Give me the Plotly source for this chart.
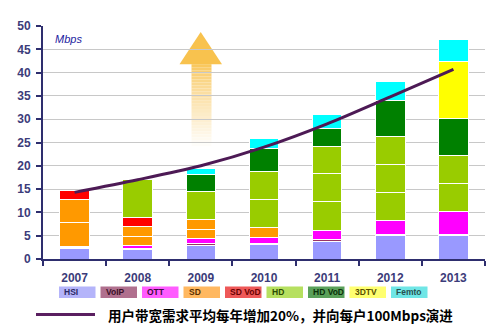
import plotly.graph_objects as go

years = ['2007', '2008', '2009', '2010', '2011', '2012', '2013']
hsi    = [2.2, 2.0, 3.0, 3.1, 3.8, 5.0, 5.0]
voip   = [0.2, 0.2, 0.3, 0.2, 0.3, 0.2, 0.2]
ott    = [0.3, 0.6, 1.0, 1.3, 2.1, 3.0, 5.0]
sd_a   = [5.1, 2.1, 2.1, 2.1, 0, 0, 0]
sd_b   = [5.0, 2.1, 2.0, 0, 0, 0, 0]
sd_vod = [1.8, 2.0, 0, 0, 0, 0, 0]
hd_a   = [0, 8.1, 6.0, 6.1, 6.1, 6.1, 6.0]
hd_b   = [0, 0, 0, 5.9, 6.1, 6.0, 6.0]
hd_c   = [0, 0, 0, 0, 5.8, 5.9, 0]
hd_vod = [0, 0, 3.8, 5.0, 3.8, 7.9, 8.0]
tdtv   = [0, 0, 0, 0, 0, 0, 12.1]
femto  = [0, 0, 1.3, 2.1, 3.1, 3.9, 4.9]
trend  = [14.3, 17.0, 20.0, 24.0, 29.0, 34.8, 40.7]

legend_names = ['HSI', 'VoIP', 'OTT', 'SD', 'SD VoD', 'HD', 'HD VoD', '3DTV', 'Femto']
trend_label = '用户带宽需求平均每年增加20%，并向每户100Mbps演进'

C = {
    'HSI': '#9999ff', 'VoIP': '#993366', 'OTT': '#ff00ff', 'SD': '#ff9900',
    'SD VoD': '#ff0000', 'HD': '#99cc00', 'HD VoD': '#008000',
    '3DTV': '#ffff00', 'Femto': '#00ffff',
}
LEG_FILL = {
    'HSI': '#b4b4fa', 'VoIP': '#b0708e', 'OTT': '#ff5cff', 'SD': '#ffb860',
    'SD VoD': '#ee5858', 'HD': '#b6e060', 'HD VoD': '#5aa05a',
    '3DTV': '#ffff70', 'Femto': '#70e6e6',
}
LEG_TEXT = {
    'HSI': '#2a2a66', 'VoIP': '#3a1028', 'OTT': '#3a0a3a', 'SD': '#5a3000',
    'SD VoD': '#6a0000', 'HD': '#2a4a00', 'HD VoD': '#0a300a',
    '3DTV': '#5a5000', 'Femto': '#2a5050',
}

series = [
    ('HSI', hsi), ('VoIP', voip), ('OTT', ott), ('SD', sd_a), ('SD', sd_b),
    ('SD VoD', sd_vod), ('HD', hd_a), ('HD', hd_b), ('HD', hd_c),
    ('HD VoD', hd_vod), ('3DTV', tdtv), ('Femto', femto),
]

fig = go.Figure()
for name, vals in series:
    fig.add_trace(go.Bar(
        x=years, y=vals, name=name, showlegend=False,
        marker=dict(color=C[name], line=dict(color='white', width=1)),
    ))

fig.add_trace(go.Scatter(
    x=years, y=trend, mode='lines', showlegend=False,
    line=dict(color='#4d1a55', width=3, shape='spline', smoothing=0.8),
))

# plot-area geometry helpers (pixels -> paper)
L, R, T, B = 43, 485, 26, 259
def px(x):
    return (x - L) / (R - L)
def py(y):
    return (B - y) / (B - T)

shapes = []
# gradient arrow (decoration)
n = 28
y_top, y_bot = 41.8, 23.5
for i in range(n):
    y0 = y_top - (y_top - y_bot) * i / n
    y1 = y_top - (y_top - y_bot) * (i + 1) / n
    t = (i / (n - 1)) ** 0.8
    r = int(249 + (255 - 249) * t)
    g = int(200 + (255 - 200) * t)
    b = int(95 + (255 - 95) * t)
    shapes.append(dict(type='rect', xref='paper', yref='y', x0=px(191.5), x1=px(211.5),
                       y0=y1, y1=y0, line=dict(width=0),
                       fillcolor=f'rgb({r},{g},{b})', layer='below'))
shapes.append(dict(type='path', xref='paper', yref='y',
                   path=f'M {px(179.5)},41.8 L {px(200.7)},48.7 L {px(222)},41.8 Z',
                   fillcolor='#f8c24e', line=dict(width=0), layer='below'))

annotations = [
    dict(text='<i>Mbps</i>', x=px(53), y=47.3, xref='paper', yref='y', xanchor='left',
         yanchor='middle', showarrow=False,
         font=dict(family='Liberation Sans, Arial', size=11, color='#1c1ca0')),
]

# custom legend boxes
box_x = [59, 100.5, 142, 183.5, 225, 266.5, 308, 349.5, 391]
box_w = 36.5
for name, x0 in zip(legend_names, box_x):
    shapes.append(dict(type='rect', xref='paper', yref='paper',
                       x0=px(x0), x1=px(x0 + box_w), y0=py(298), y1=py(286.5),
                       fillcolor=LEG_FILL[name], line=dict(width=0)))
    annotations.append(dict(text=f'<b>{name}</b>', x=px(x0 + 3), y=py(292.3),
                            xref='paper', yref='paper', xanchor='left', yanchor='middle',
                            showarrow=False,
                            font=dict(family='Liberation Sans, Arial', size=8.5, color=LEG_TEXT[name])))

# trend legend
shapes.append(dict(type='line', xref='paper', yref='paper', x0=px(36), x1=px(95),
                   y0=py(314.5), y1=py(314.5), line=dict(color='#5a1f60', width=3)))
annotations.append(dict(text='<b>' + trend_label + '</b>', x=px(106), y=py(314.5),
                        xref='paper', yref='paper',
                        xanchor='left', yanchor='middle', showarrow=False,
                        font=dict(family='Noto Sans CJK SC', size=13.5, color='#000000')))

fig.update_layout(
    width=500, height=336,
    margin=dict(l=L, r=500 - R, t=T, b=336 - B),
    paper_bgcolor='white', plot_bgcolor='white',
    barmode='stack', bargap=0.53,
    shapes=shapes, annotations=annotations,
    xaxis=dict(
        type='category', showgrid=False, showline=True, linecolor='#2e2e6e', linewidth=2,
        ticks='outside', ticklen=5, tickwidth=2, tickcolor='#2e2e6e', tickson='boundaries',
        ticklabelstandoff=7,
        tickfont=dict(family='Liberation Sans, Arial', size=12, color='#3c3c7a', weight='bold'),
    ),
    yaxis=dict(
        range=[0, 50], dtick=5, showgrid=True, gridcolor='#c8c8c8', gridwidth=1,
        showline=True, linecolor='#2e2e6e', linewidth=2,
        ticks='outside', ticklen=5, tickwidth=2, tickcolor='#2e2e6e',
        ticklabelstandoff=3, zeroline=False,
        tickfont=dict(family='Liberation Sans, Arial', size=12, color='#3c3c7a', weight='bold'),
    ),
)

fig.write_html('out.html')
